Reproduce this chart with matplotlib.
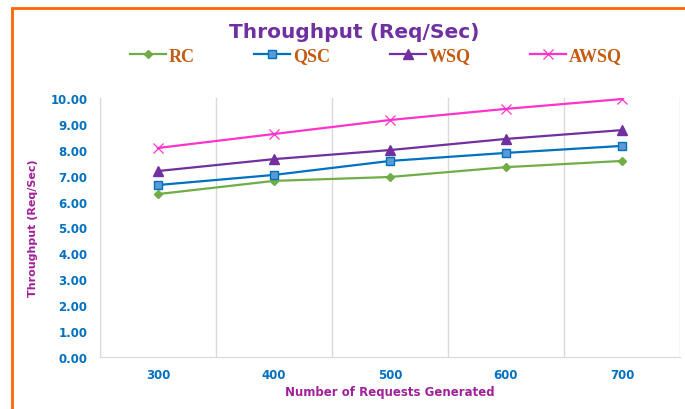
import matplotlib.pyplot as plt
from matplotlib.patches import Rectangle
from matplotlib.ticker import FixedLocator

requests = ["300", "400", "500", "600", "700"]
rc = [6.29, 6.80, 6.95, 7.33, 7.57]
qsc = [6.64, 7.03, 7.57, 7.88, 8.15]
wsq = [7.18, 7.64, 7.99, 8.42, 8.76]
awsq = [8.07, 8.61, 9.15, 9.58, 9.96]
y_ticks = [0, 1, 2, 3, 4, 5, 6, 7, 8, 9, 10]

fig = plt.figure(figsize=(6.85, 4.10), dpi=100)
ax = fig.add_axes([100 / 685, 1 - 358 / 410, 580 / 685, 259 / 410])

x = range(len(requests))
ax.plot(x, rc, color="#70AD47", lw=1.6, marker="D", ms=4.5, label="RC")
ax.plot(x, qsc, color="#0070C0", lw=1.6, marker="s", ms=6,
        mfc="#5B9BD5", mec="#0070C0", label="QSC")
ax.plot(x, wsq, color="#7030A0", lw=1.6, marker="^", ms=6.5, label="WSQ")
ax.plot(x, awsq, color="#FF33CC", lw=1.6, marker="x", ms=6.5, mew=0.9, label="AWSQ")

ax.set_xlim(-0.5, len(requests) - 0.5)
ax.set_ylim(0, 10)
ax.set_xticks(list(x))
ax.set_xticklabels(requests)
ax.set_yticks(y_ticks)
ax.set_yticklabels([f"{v:.2f}" for v in y_ticks])
ax.xaxis.set_minor_locator(FixedLocator([i - 0.5 for i in range(len(requests) + 1)]))
ax.grid(which="minor", axis="x", color="#D9D9D9", lw=1)
ax.tick_params(which="both", length=0)
ax.tick_params(axis="x", pad=8)
ax.tick_params(axis="y", pad=9)
for lbl in ax.get_xticklabels() + ax.get_yticklabels():
    lbl.set_color("#0070C0")
    lbl.set_fontweight("bold")
    lbl.set_fontsize(8.5)

for s in ["top", "right"]:
    ax.spines[s].set_visible(False)
for s in ["left", "bottom"]:
    ax.spines[s].set_color("#D9D9D9")

ax.set_xlabel("Number of Requests Generated", color="#A0209A", fontsize=8.5,
              fontweight="bold", labelpad=3)
ax.set_ylabel("Throughput (Req/Sec)", color="#A0209A", fontsize=8,
              fontweight="bold", labelpad=9)

fig.text(354 / 685, 1 - 32 / 410, "Throughput (Req/Sec)", ha="center", va="center",
         color="#7030A0", fontsize=14.5, fontweight="bold")

fig.legend(loc="center", bbox_to_anchor=(376 / 685, 1 - 57 / 410), ncol=4,
           frameon=False, columnspacing=3.3, handlelength=2.0, handletextpad=0.15,
           prop={"family": "Liberation Serif", "weight": "bold", "size": 13},
           labelcolor="#C55A11")

fig.patches.append(Rectangle((12 / 685, -0.1), 1.2, 1 - 9 / 410 + 0.1,
                             transform=fig.transFigure, fill=False,
                             edgecolor="#FF6600", lw=2, figure=fig))

fig.savefig("out.png", dpi=100)
